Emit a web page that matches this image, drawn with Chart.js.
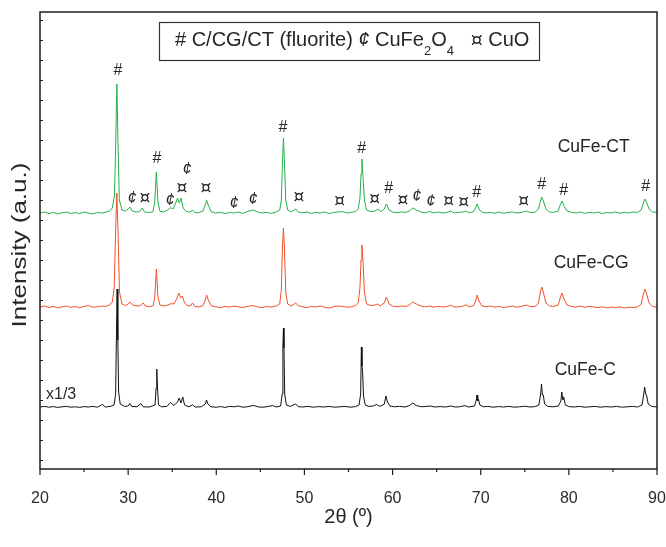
<!DOCTYPE html>
<html>
<head>
<meta charset="utf-8">
<script src="https://cdn.jsdelivr.net/npm/chart.js@4.4.1/dist/chart.umd.min.js"></script>
<style>
html,body{margin:0;padding:0;background:#fff;}
#wrap{width:666px;height:547px;}
</style>
</head>
<body>
<div id="wrap"><canvas id="c" width="666" height="547"></canvas></div>
<script>
// ---- data (2θ in degrees, intensity in stacked a.u.) ----
const xTicks = [20, 30, 40, 50, 60, 70, 80, 90];
const seriesNames = ["CuFe-CT", "CuFe-CG", "CuFe-C"];

const ctData = [[20,12.35],[20.5,12.4],[21,12.32],[21.5,12.38],[22,12.3],[22.5,12.36],[23,12.4],[23.5,12.33],[24,12.37],[24.5,12.32],[25,12.4],[25.5,12.35],[26,12.3],[26.5,12.38],[27,12.34],[27.5,12.4],[27.9,12.45],[28.2,12.6],[28.45,13.2],[28.6,16.0],[28.72,18.8],[28.84,16.0],[29.0,13.0],[29.3,12.5],[29.7,12.45],[30.0,12.55],[30.2,12.65],[30.45,12.45],[30.9,12.4],[31.3,12.42],[31.6,12.6],[31.85,12.4],[32.3,12.38],[32.8,12.4],[33.02,12.9],[33.2,14.4],[33.38,12.9],[33.6,12.45],[34.0,12.4],[34.5,12.5],[34.8,12.62],[35.1,12.55],[35.45,12.9],[35.6,13.1],[35.8,12.85],[36.0,13.1],[36.25,12.6],[36.6,12.42],[37.0,12.4],[37.3,12.5],[37.55,12.38],[38.0,12.36],[38.5,12.45],[38.75,12.75],[38.9,13.0],[39.08,12.75],[39.4,12.42],[39.9,12.35],[40.5,12.38],[41,12.32],[41.5,12.38],[42,12.35],[42.5,12.4],[43,12.33],[43.5,12.42],[44.2,12.5],[44.7,12.4],[45.2,12.35],[45.7,12.38],[46.2,12.33],[46.8,12.4],[47.2,12.5],[47.38,13.0],[47.5,14.8],[47.62,16.1],[47.74,14.8],[47.88,13.0],[48.1,12.5],[48.5,12.4],[49.0,12.55],[49.3,12.4],[49.8,12.36],[50.3,12.4],[50.8,12.33],[51.3,12.38],[51.8,12.35],[52.3,12.4],[52.8,12.32],[53.3,12.38],[53.8,12.4],[54.3,12.42],[54.8,12.35],[55.3,12.38],[55.8,12.42],[56.1,12.55],[56.3,13.1],[56.42,14.3],[56.52,15.05],[56.64,14.2],[56.8,13.0],[57.05,12.5],[57.5,12.42],[58.0,12.45],[58.35,12.55],[58.7,12.42],[59.05,12.55],[59.3,12.8],[59.6,12.5],[60.0,12.4],[60.5,12.36],[61.0,12.4],[61.5,12.38],[61.9,12.45],[62.3,12.6],[62.7,12.5],[63.2,12.4],[63.7,12.36],[64.2,12.42],[64.7,12.35],[65.2,12.4],[65.7,12.35],[66.2,12.38],[66.6,12.45],[67.0,12.35],[67.5,12.38],[68.0,12.4],[68.3,12.45],[68.7,12.36],[69.2,12.42],[69.42,12.6],[69.6,12.8],[69.8,12.55],[70.1,12.4],[70.6,12.35],[71.1,12.38],[71.6,12.34],[72.1,12.4],[72.6,12.33],[73.1,12.38],[73.6,12.4],[74.1,12.35],[74.6,12.38],[75.2,12.45],[75.7,12.36],[76.2,12.4],[76.55,12.55],[76.78,12.95],[76.92,13.15],[77.1,12.95],[77.4,12.55],[77.8,12.4],[78.3,12.38],[78.8,12.45],[79.05,12.8],[79.22,12.95],[79.45,12.7],[79.8,12.45],[80.3,12.38],[80.8,12.35],[81.3,12.4],[81.8,12.33],[82.3,12.38],[82.8,12.35],[83.3,12.4],[83.8,12.32],[84.3,12.37],[84.8,12.35],[85.3,12.4],[85.8,12.34],[86.3,12.38],[86.8,12.35],[87.3,12.4],[87.8,12.38],[88.2,12.5],[88.45,12.85],[88.62,13.05],[88.8,12.9],[89.1,12.55],[89.5,12.4],[90,12.38]];

const cgData = [[20,7.65],[20.5,7.7],[21,7.62],[21.5,7.68],[22,7.6],[22.5,7.66],[23,7.7],[23.5,7.63],[24,7.67],[24.5,7.62],[25,7.68],[25.5,7.72],[26,7.64],[26.5,7.66],[27,7.7],[27.5,7.68],[27.9,7.75],[28.2,7.9],[28.42,8.6],[28.58,11.5],[28.72,13.35],[28.86,11.3],[29.02,8.4],[29.3,7.8],[29.7,7.72],[30.0,7.8],[30.2,7.9],[30.5,7.75],[31.0,7.7],[31.4,7.72],[31.7,7.85],[31.95,7.7],[32.4,7.66],[32.85,7.72],[33.03,8.2],[33.2,9.55],[33.37,8.2],[33.6,7.75],[34.1,7.7],[34.5,7.75],[34.9,7.82],[35.2,7.8],[35.5,8.05],[35.75,8.35],[35.95,8.1],[36.15,8.2],[36.4,7.85],[36.8,7.7],[37.1,7.72],[37.3,7.85],[37.55,7.68],[38.0,7.65],[38.5,7.72],[38.75,8.0],[38.9,8.25],[39.1,8.0],[39.4,7.72],[39.9,7.66],[40.5,7.62],[41,7.68],[41.5,7.64],[42,7.7],[42.5,7.66],[43,7.62],[43.5,7.68],[44.2,7.72],[44.7,7.65],[45.2,7.62],[45.7,7.68],[46.2,7.64],[46.8,7.7],[47.2,7.8],[47.38,8.5],[47.5,10.6],[47.62,11.6],[47.74,10.5],[47.88,8.4],[48.1,7.8],[48.5,7.7],[49.0,7.85],[49.3,7.72],[49.8,7.66],[50.3,7.62],[50.8,7.68],[51.3,7.65],[51.8,7.7],[52.3,7.64],[52.8,7.6],[53.3,7.66],[53.8,7.7],[54.3,7.68],[54.8,7.64],[55.3,7.66],[55.8,7.72],[56.1,7.85],[56.3,8.6],[56.42,10.0],[56.52,10.75],[56.64,10.0],[56.8,8.4],[57.05,7.8],[57.5,7.72],[58.0,7.75],[58.3,7.8],[58.6,7.7],[59.05,7.85],[59.3,8.15],[59.6,7.8],[60.0,7.7],[60.5,7.66],[61.0,7.7],[61.5,7.68],[61.9,7.75],[62.3,7.9],[62.7,7.8],[63.2,7.7],[63.7,7.66],[64.2,7.7],[64.7,7.64],[65.2,7.68],[65.7,7.65],[66.2,7.68],[66.6,7.74],[67.0,7.65],[67.5,7.66],[68.0,7.7],[68.3,7.76],[68.7,7.66],[69.2,7.72],[69.42,7.95],[69.6,8.25],[69.8,7.95],[70.1,7.72],[70.6,7.66],[71.1,7.7],[71.6,7.64],[72.1,7.68],[72.6,7.62],[73.1,7.66],[73.6,7.7],[74.1,7.64],[74.6,7.68],[75.2,7.75],[75.7,7.66],[76.2,7.68],[76.55,7.85],[76.78,8.4],[76.92,8.65],[77.1,8.4],[77.4,7.85],[77.8,7.7],[78.3,7.68],[78.8,7.75],[79.05,8.15],[79.22,8.35],[79.45,8.05],[79.8,7.75],[80.3,7.68],[80.8,7.64],[81.3,7.7],[81.8,7.63],[82.3,7.68],[82.8,7.65],[83.3,7.62],[83.8,7.66],[84.3,7.6],[84.8,7.65],[85.3,7.62],[85.8,7.66],[86.3,7.6],[86.8,7.64],[87.3,7.62],[87.8,7.66],[88.2,7.78],[88.45,8.3],[88.62,8.55],[88.8,8.35],[89.1,7.85],[89.5,7.68],[90,7.64]];

const cData = [[20,2.65],[20.5,2.68],[21,2.64],[21.5,2.67],[22,2.63],[22.5,2.66],[23,2.68],[23.5,2.64],[24,2.66],[24.5,2.63],[25,2.67],[25.5,2.65],[26,2.68],[26.5,2.64],[27.1,2.78],[27.4,2.65],[28.0,2.68],[28.4,2.75],[28.58,3.3],[28.68,6.5],[28.75,8.55],[28.83,6.0],[28.92,3.4],[29.1,2.8],[29.6,2.68],[30.0,2.7],[30.2,2.82],[30.4,2.68],[31.0,2.66],[31.45,2.82],[31.7,2.66],[32.4,2.65],[33.05,2.75],[33.17,3.6],[33.25,4.55],[33.33,3.6],[33.45,2.75],[33.8,2.66],[34.4,2.68],[34.8,2.88],[35.2,2.72],[35.6,2.9],[35.8,3.1],[35.98,2.85],[36.2,3.15],[36.4,2.75],[36.9,2.66],[37.3,2.76],[37.6,2.65],[38.3,2.66],[38.75,2.8],[38.9,3.0],[39.05,2.8],[39.4,2.66],[40,2.64],[40.5,2.67],[41,2.63],[41.5,2.68],[42,2.66],[42.5,2.7],[43,2.64],[43.5,2.66],[44.2,2.73],[44.8,2.65],[45.3,2.64],[45.8,2.67],[46.4,2.72],[46.8,2.65],[47.3,2.7],[47.48,3.3],[47.56,5.7],[47.62,6.6],[47.68,5.6],[47.76,3.3],[47.95,2.75],[48.4,2.68],[49.0,2.8],[49.3,2.67],[49.8,2.65],[50.4,2.68],[51,2.64],[51.6,2.67],[52.2,2.65],[52.8,2.68],[53.4,2.64],[54.0,2.66],[54.6,2.68],[55.2,2.64],[55.8,2.67],[56.2,2.75],[56.38,3.3],[56.46,5.65],[56.53,4.7],[56.6,4.45],[56.7,3.2],[56.9,2.75],[57.3,2.68],[57.8,2.7],[58.2,2.78],[58.5,2.68],[59.05,2.78],[59.25,3.2],[59.42,2.9],[59.7,2.7],[60.2,2.66],[60.8,2.68],[61.4,2.65],[61.9,2.72],[62.3,2.85],[62.7,2.72],[63.3,2.66],[63.8,2.68],[64.3,2.7],[64.8,2.65],[65.4,2.67],[66.0,2.65],[66.6,2.7],[67.1,2.65],[67.6,2.66],[68.2,2.72],[68.6,2.65],[69.3,2.7],[69.5,3.0],[69.58,3.25],[69.66,2.95],[69.74,3.05],[69.9,2.75],[70.3,2.66],[70.8,2.68],[71.4,2.64],[72,2.67],[72.6,2.65],[73.2,2.68],[73.8,2.64],[74.4,2.66],[75.0,2.69],[75.6,2.65],[76.2,2.67],[76.6,2.75],[76.8,3.3],[76.9,3.8],[77.0,3.25],[77.1,3.25],[77.25,2.8],[77.6,2.68],[78.2,2.66],[78.8,2.7],[79.1,2.95],[79.2,3.4],[79.32,3.0],[79.42,3.15],[79.6,2.75],[80.0,2.67],[80.6,2.65],[81.2,2.68],[81.8,2.64],[82.4,2.66],[83.0,2.68],[83.6,2.64],[84.2,2.67],[84.8,2.65],[85.4,2.68],[86.0,2.64],[86.6,2.66],[87.2,2.68],[87.8,2.65],[88.3,2.75],[88.5,3.3],[88.6,3.65],[88.72,3.3],[88.84,3.2],[89.0,2.8],[89.4,2.68],[90,2.65]];

// phase markers: [2θ, intensity, symbol]
const phaseMarks = [[28.84,19.45,"#"],[30.43,13.05,"¢"],[31.9,13.05,"¤"],[33.27,15.05,"#"],[34.74,12.95,"¢"],[36.1,13.55,"¤"],[36.67,14.5,"¢"],[38.82,13.55,"¤"],[42.0,12.8,"¢"],[44.15,13.0,"¢"],[47.55,16.6,"#"],[49.37,13.1,"¤"],[54.01,12.9,"¤"],[56.51,15.55,"#"],[57.98,13.0,"¤"],[59.57,13.55,"#"],[61.16,12.95,"¤"],[62.74,13.15,"¢"],[64.33,12.9,"¢"],[66.37,12.9,"¤"],[68.07,12.85,"¤"],[69.55,13.35,"#"],[74.88,12.9,"¤"],[76.92,13.75,"#"],[79.41,13.45,"#"],[88.71,13.65,"#"]];
// sample labels: [2θ (left edge), intensity, text]
const sampleLabels = [[78.73,15.65,"CuFe-CT"],[78.28,9.85,"CuFe-CG"],[78.39,4.5,"CuFe-C"],[20.68,3.25,"x1/3"]];

const FONT = "Arial, 'Liberation Sans', Helvetica, sans-serif";
const INK = "#262626";

function markFont(sym) {
  if (sym === "¤") return "17px 'DejaVu Sans', " + FONT;
  if (sym === "¢") return "italic 16px " + FONT;
  return "16px " + FONT;
}

const decor = {
  id: "decor",
  afterDatasetsDraw(chart) {
    const {ctx, chartArea: a, scales: {x, y}} = chart;
    ctx.save();
    // frame
    ctx.strokeStyle = "#1e1e1e";
    ctx.lineWidth = 1.5;
    ctx.strokeRect(a.left, a.top, a.right - a.left, a.bottom - a.top);
    // x ticks
    ctx.lineWidth = 1.2;
    for (let v = 20; v <= 90; v += 5) {
      const px = x.getPixelForValue(v);
      const len = (v % 10 === 0) ? 6 : 3;
      ctx.beginPath(); ctx.moveTo(px, a.bottom); ctx.lineTo(px, a.bottom + len); ctx.stroke();
    }
    // y ticks (inward)
    ctx.lineWidth = 1;
    for (let v = 0; v <= 22; v++) {
      const py = Math.round(y.getPixelForValue(v)) + 0.5;
      ctx.beginPath(); ctx.moveTo(a.left, py); ctx.lineTo(a.left + 3, py); ctx.stroke();
    }
    // phase markers
    ctx.fillStyle = INK;
    ctx.textAlign = "center";
    ctx.textBaseline = "middle";
    phaseMarks.forEach(m => {
      ctx.font = markFont(m[2]);
      ctx.fillText(m[2], x.getPixelForValue(m[0]), y.getPixelForValue(m[1]));
    });
    // sample labels
    ctx.textAlign = "left";
    sampleLabels.forEach((s, i) => {
      ctx.font = (i === 3 ? "16px " : "17.5px ") + FONT;
      ctx.fillText(s[2], x.getPixelForValue(s[0]), y.getPixelForValue(s[1]));
    });
    // legend box
    const bx = 159, by = 22, bw = 380, bh = 38;
    ctx.fillStyle = "#fff";
    ctx.fillRect(bx, by, bw, bh);
    ctx.strokeStyle = "#333";
    ctx.lineWidth = 1.2;
    ctx.strokeRect(bx + 0.5, by + 0.5, bw, bh);
    ctx.fillStyle = INK;
    ctx.textBaseline = "alphabetic";
    const segs = [["# C/CG/CT (fluorite) ", "20px " + FONT, 0], ["¢", "italic 20px " + FONT, 0], [" CuFe", "20px " + FONT, 0], ["2", "13px " + FONT, 9], ["O", "20px " + FONT, 0], ["4", "13px " + FONT, 9], ["   ", "20px " + FONT, 0], ["¤", "19px 'DejaVu Sans', " + FONT, 0], [" CuO", "20px " + FONT, 0]];
    let tx = 175;
    const base = 46;
    segs.forEach(s => {
      ctx.font = s[1];
      ctx.fillText(s[0], tx, base + s[2]);
      tx += ctx.measureText(s[0]).width;
    });
    // axis titles
    ctx.font = "20px " + FONT;
    ctx.textAlign = "center";
    ctx.textBaseline = "middle";
    ctx.fillText("2θ (º)", (a.left + a.right) / 2, 517);
    ctx.save();
    ctx.translate(20, 245);
    ctx.rotate(-Math.PI / 2);
    const t = "Intensity (a.u.)";
    const w = ctx.measureText(t).width;
    ctx.scale(165 / w, 1);
    ctx.fillText(t, 0, 0);
    ctx.restore();
    ctx.restore();
  }
};

new Chart(document.getElementById("c"), {
  type: "line",
  data: {
    datasets: [
      {label: seriesNames[0], data: ctData, borderColor: "#22b04b"},
      {label: seriesNames[1], data: cgData, borderColor: "#f0502a"},
      {label: seriesNames[2], data: cData, borderColor: "#111111"}
    ]
  },
  options: {
    responsive: false,
    animation: false,
    events: [],
    layout: {padding: {left: 40, top: 12, right: 9, bottom: 0}},
    elements: {line: {borderWidth: 1, tension: 0}, point: {radius: 0}},
    plugins: {legend: {display: false}, tooltip: {enabled: false}},
    scales: {
      x: {
        type: "linear", min: 20, max: 90,
        afterBuildTicks: s => { s.ticks = xTicks.map(v => ({value: v})); },
        afterFit: s => { s.height = 78; s.paddingLeft = 0; s.paddingRight = 0; },
        grid: {display: false},
        border: {display: false},
        ticks: {color: "#2b2b2b", font: {size: 16, family: FONT}, padding: 12, maxRotation: 0}
      },
      y: {
        type: "linear", min: -0.45, max: 22.4, display: false
      }
    }
  },
  plugins: [decor]
});
</script>
</body>
</html>
